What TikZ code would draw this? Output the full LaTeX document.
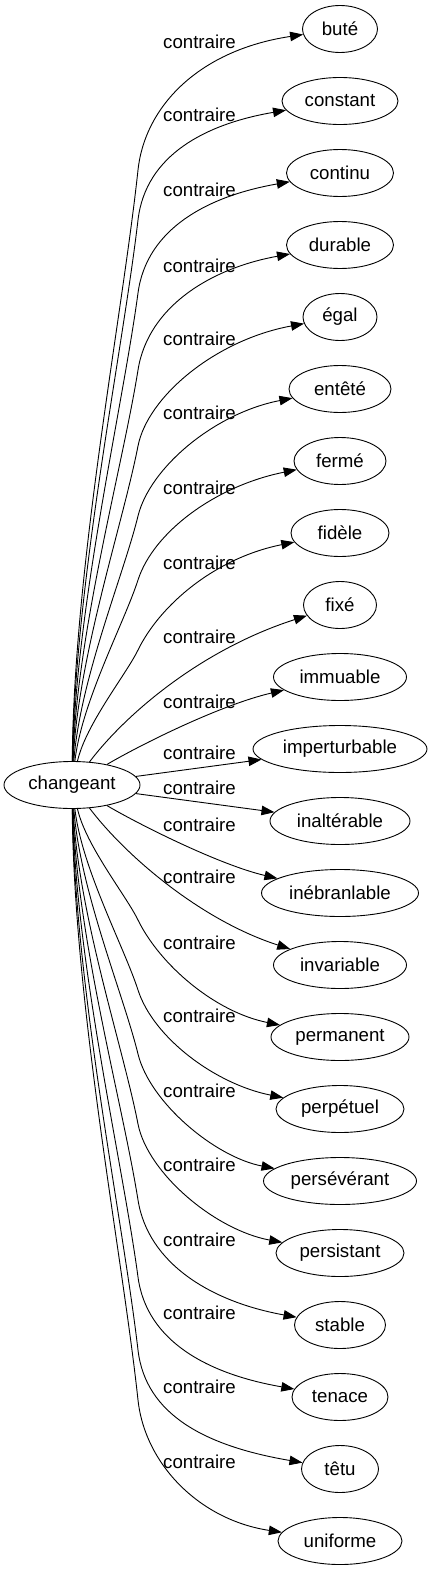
\documentclass[tikz,border=0pt]{standalone}
\usepackage{fontspec}
\setmainfont{Liberation Sans}
\usetikzlibrary{arrows.meta,shapes.geometric}
\tikzset{
  word/.style={draw,ellipse,inner sep=0pt,minimum height=47pt,line width=0.9pt,font=\fontsize{18.67}{22}\selectfont},
  rel/.style={-{Triangle[length=13pt,width=9.5pt]},line width=0.9pt},
  lbl/.style={inner sep=0pt,font=\fontsize{18.67}{22}\selectfont},
}

\begin{document}
\begin{tikzpicture}[x=1pt,y=-1pt]
  \useasboundingbox (0,0) rectangle (433,1571);

  % source
  \node[word,minimum width=136pt] (chg) at (72,785) {changeant};

  % targets
  \node[word,minimum width=75pt]  (bute)     at (340,29)   {buté};
  \node[word,minimum width=116pt] (constant) at (340,101)  {constant};
  \node[word,minimum width=107pt] (continu)  at (340,173)  {continu};
  \node[word,minimum width=107pt] (durable)  at (340,245)  {durable};
  \node[word,minimum width=74pt]  (egal)     at (340,317)  {égal};
  \node[word,minimum width=102pt] (entete)   at (340,389)  {entêté};
  \node[word,minimum width=92pt]  (ferme)    at (340,461)  {fermé};
  \node[word,minimum width=98pt]  (fidele)   at (340,533)  {fidèle};
  \node[word,minimum width=73pt]  (fixe)     at (340,605)  {fixé};
  \node[word,minimum width=133pt] (immu)     at (340,677)  {immuable};
  \node[word,minimum width=174pt] (imper)    at (340,749)  {imperturbable};
  \node[word,minimum width=140pt] (inalt)    at (340,821)  {inaltérable};
  \node[word,minimum width=157pt] (inebr)    at (340,893)  {inébranlable};
  \node[word,minimum width=133pt] (invar)    at (340,965)  {invariable};
  \node[word,minimum width=138pt] (perma)    at (340,1037) {permanent};
  \node[word,minimum width=128pt] (perpe)    at (340,1109) {perpétuel};
  \node[word,minimum width=153pt] (perse)    at (340,1181) {persévérant};
  \node[word,minimum width=128pt] (persi)    at (340,1253) {persistant};
  \node[word,minimum width=91pt]  (stable)   at (340,1325) {stable};
  \node[word,minimum width=96pt]  (tenace)   at (340,1397) {tenace};
  \node[word,minimum width=77pt]  (tetu)     at (340,1469) {têtu};
  \node[word,minimum width=124pt] (unif)     at (340,1541) {uniforme};

  % edge labels
  \node[lbl] (c1)  at (199.5,42)   {contraire};
  \node[lbl] (c2)  at (199.5,115)  {contraire};
  \node[lbl] (c3)  at (199.5,190)  {contraire};
  \node[lbl] (c4)  at (199.5,266)  {contraire};
  \node[lbl] (c5)  at (199.5,339)  {contraire};
  \node[lbl] (c6)  at (199.5,413)  {contraire};
  \node[lbl] (c7)  at (199.5,488)  {contraire};
  \node[lbl] (c8)  at (199.5,563)  {contraire};
  \node[lbl] (c9)  at (199.5,637)  {contraire};
  \node[lbl] (c10) at (199.5,702)  {contraire};
  \node[lbl] (c11) at (199.5,753)  {contraire};
  \node[lbl] (c12) at (199.5,788)  {contraire};
  \node[lbl] (c13) at (199.5,825)  {contraire};
  \node[lbl] (c14) at (199.5,877)  {contraire};
  \node[lbl] (c15) at (199.5,943)  {contraire};
  \node[lbl] (c16) at (199.5,1016) {contraire};
  \node[lbl] (c17) at (199.5,1091) {contraire};
  \node[lbl] (c18) at (199.5,1165) {contraire};
  \node[lbl] (c19) at (199.5,1240) {contraire};
  \node[lbl] (c20) at (199.5,1313) {contraire};
  \node[lbl] (c21) at (199.5,1387) {contraire};
  \node[lbl] (c22) at (199.5,1462) {contraire};

  % edges, upper half: steep rise, then bend below the label
  \draw[rel] (chg) .. controls (74,564) and (122.2,317.1) .. (138,170)
             .. controls (145,105.4) and (200,50) .. (bute);
  \draw[rel] (chg) .. controls (75,581) and (122.3,354) .. (138,220)
             .. controls (145.5,155.5) and (205,124) .. (constant);
  \draw[rel] (chg) .. controls (76,605) and (122.4,409) .. (138,293)
             .. controls (146.6,228.6) and (208,196) .. (continu);
  \draw[rel] (chg) .. controls (77,631) and (122.6,466.8) .. (138,370)
             .. controls (148.2,305.8) and (212,268) .. (durable);
  \draw[rel] (chg) .. controls (78,656) and (122.9,523.5) .. (138,446)
             .. controls (147.6,396.9) and (215,340) .. (egal);
  \draw[rel] (chg) .. controls (80,679) and (123.5,575.2) .. (138,516)
             .. controls (149.9,467.4) and (215,413) .. (entete);
  \draw[rel] (chg) .. controls (82,701) and (124.2,622.8) .. (138,580)
             .. controls (153.3,532.4) and (215,486) .. (ferme);
  \draw[rel] (chg) .. controls (86,724) and (125.7,675.1) .. (138,650)
             .. controls (160,605) and (215,558) .. (fidele);
  \draw[rel] (chg) .. controls (125,715) and (200,650) .. (fixe);
  \draw[rel] (chg) .. controls (140,745) and (220,705) .. (immu);
  \draw[rel] (chg) -- (imper);

  % edges, lower half
  \draw[rel] (chg) -- (inalt);
  \draw[rel] (chg) .. controls (140,825) and (220,865) .. (inebr);
  \draw[rel] (chg) .. controls (125,855) and (200,920) .. (invar);
  \draw[rel] (chg) .. controls (86,846) and (125.7,894.9) .. (138,920)
             .. controls (160,965) and (215,1012) .. (perma);
  \draw[rel] (chg) .. controls (82,869) and (124.2,947.2) .. (138,990)
             .. controls (153.3,1037.6) and (215,1084) .. (perpe);
  \draw[rel] (chg) .. controls (80,891) and (123.5,994.8) .. (138,1054)
             .. controls (149.9,1102.6) and (215,1157) .. (perse);
  \draw[rel] (chg) .. controls (78,914) and (122.9,1046.5) .. (138,1124)
             .. controls (147.6,1173.1) and (215,1230) .. (persi);
  \draw[rel] (chg) .. controls (77,939) and (122.6,1103.2) .. (138,1200)
             .. controls (148.2,1264.2) and (212,1302) .. (stable);
  \draw[rel] (chg) .. controls (76,965) and (122.4,1161) .. (138,1277)
             .. controls (146.6,1341.4) and (208,1374) .. (tenace);
  \draw[rel] (chg) .. controls (75,989) and (122.3,1216) .. (138,1350)
             .. controls (145.5,1414.5) and (205,1446) .. (tetu);
  \draw[rel] (chg) .. controls (74,1006) and (122.2,1252.9) .. (138,1400)
             .. controls (145,1464.6) and (200,1520) .. (unif);

\end{tikzpicture}
\end{document}
